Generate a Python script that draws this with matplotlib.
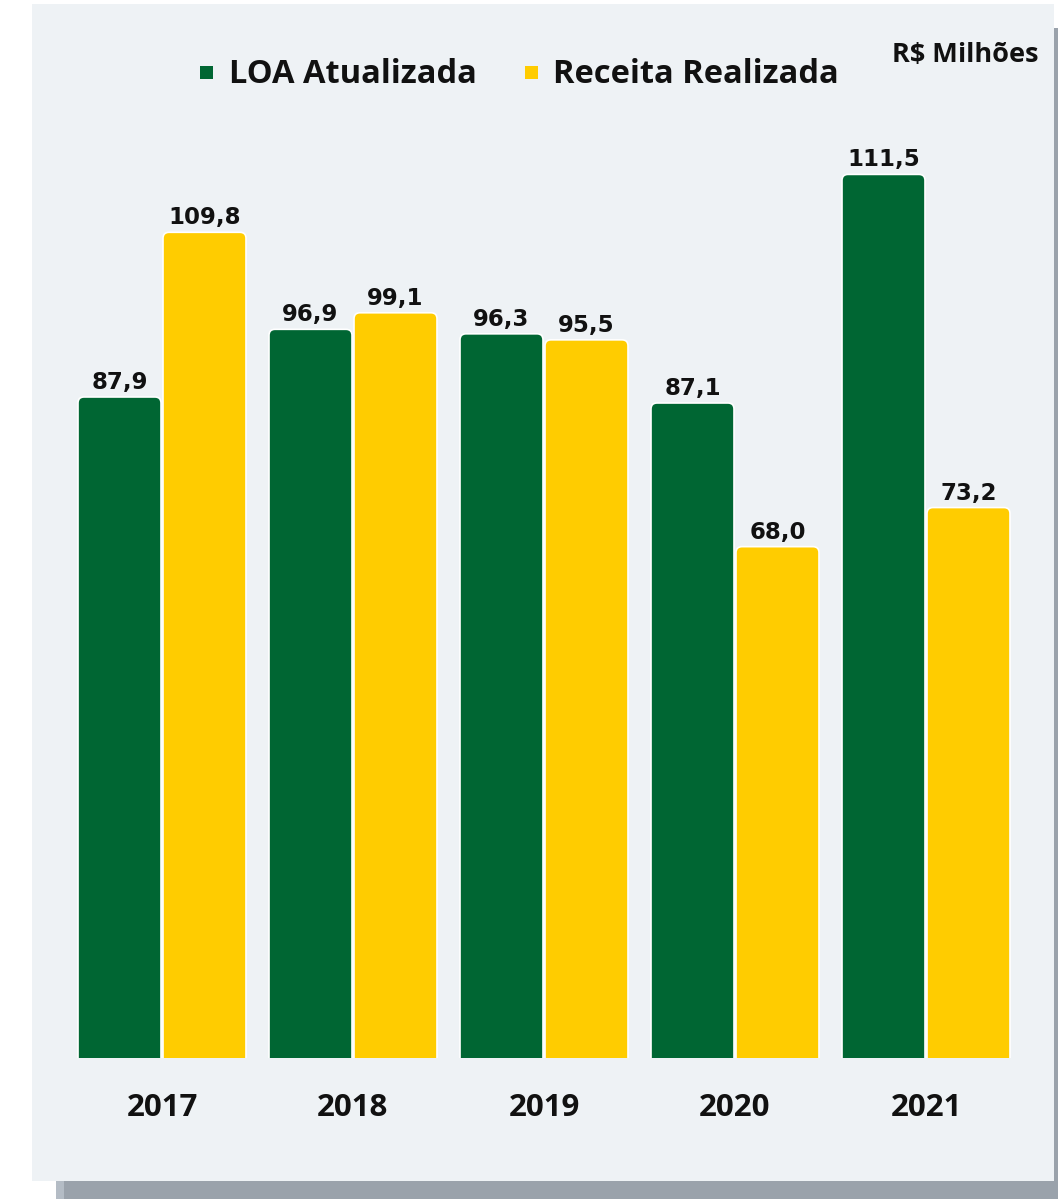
import matplotlib
matplotlib.use("Agg")
import matplotlib.pyplot as plt
from matplotlib.patches import Rectangle, FancyBboxPatch

years = ["2017", "2018", "2019", "2020", "2021"]
loa_values = [87.9, 96.9, 96.3, 87.1, 117.5]
receita_values = [109.8, 99.1, 95.5, 68.0, 73.2]
loa_labels = ["87,9", "96,9", "96,3", "87,1", "111,5"]
receita_labels = ["109,8", "99,1", "95,5", "68,0", "73,2"]
series_names = ["LOA Atualizada", "Receita Realizada"]
unit_label = "R$ Milhões"

GREEN = "#006633"
YELLOW = "#FFCC00"
PANEL = "#EEF2F5"
SHADOW = "#9AA2AB"
FONT = ["Open Sans", "DejaVu Sans"]
VFONT = ["DejaVu Sans"]

W, H = 1058, 1199
fig = plt.figure(figsize=(W / 100, H / 100), dpi=100)
fig.patch.set_facecolor("white")


def fx(x):
    return x / W


def fy(y):
    return 1 - y / H


PT = 72 / 100  # points per pixel

# shadow and panel
fig.patches.append(Rectangle((fx(56), fy(1199)), fx(1058) - fx(56), fy(28) - fy(1199),
                             transform=fig.transFigure, facecolor=SHADOW, edgecolor="none", zorder=-3))
fig.patches.append(Rectangle((fx(56), fy(1199)), fx(64) - fx(56), fy(1181) - fy(1199),
                             transform=fig.transFigure, facecolor="#B4BCC5", edgecolor="none", zorder=-2))
fig.patches.append(Rectangle((fx(32), fy(1181)), fx(1054) - fx(32), fy(4) - fy(1181),
                             transform=fig.transFigure, facecolor=PANEL, edgecolor="none", zorder=-1))

# axes: baseline at pixel y=1058, 7.52 px per unit
px_per_unit = 7.52
px_per_group = 191.0
x_left_px, x_right_px = 32, 1054
ax = fig.add_axes([fx(x_left_px), fy(1058), fx(x_right_px) - fx(x_left_px), fy(5) - fy(1058)])
ax.set_facecolor("none")
ax.set_xlim((x_left_px - 162) / px_per_group, (x_right_px - 162) / px_per_group)
ax.set_ylim(0, (1058 - 5) / px_per_unit)
for s in ax.spines.values():
    s.set_visible(False)
ax.set_xticks([])
ax.set_yticks([])

bw = 83 / px_per_group
off = 42.5 / px_per_group
xs = list(range(len(years)))

bars_g = ax.bar([x - off for x in xs], loa_values, width=bw, color=GREEN)
bars_y = ax.bar([x + off for x in xs], receita_values, width=bw, color=YELLOW)

r_x = 6 / px_per_group
aspect = (6 / px_per_unit) / r_x
for bars, col in ((bars_g, GREEN), (bars_y, YELLOW)):
    for b in bars:
        b.set_visible(False)
        x0, w, h = b.get_x(), b.get_width(), b.get_height()
        p = FancyBboxPatch((x0, -3), w, h + 3,
                           boxstyle=f"round,pad=0,rounding_size={r_x}",
                           mutation_aspect=aspect, facecolor=col,
                           edgecolor="white", linewidth=1.2, zorder=3)
        ax.add_patch(p)

for sign, vals, labs in ((-1, loa_values, loa_labels), (1, receita_values, receita_labels)):
    for x, v, lab in zip(xs, vals, labs):
        ax.annotate(lab, (x + sign * off, v), xytext=(0, 8 * PT), textcoords="offset points",
                    ha="center", va="baseline", fontsize=16.5, fontweight="bold",
                    family=VFONT, color="#111111")

for x, yr in zip(xs, years):
    ax.annotate(yr, (x, 0), xytext=(0, -58 * PT), textcoords="offset points",
                ha="center", va="baseline", fontsize=22.5, fontweight="bold",
                family=FONT, color="#111111")

# legend
sq = 13
for cx, col, name, tx in ((206.5, GREEN, series_names[0], 229),
                          (531.5, YELLOW, series_names[1], 553)):
    fig.patches.append(Rectangle((fx(cx - sq / 2), fy(72.5 + sq / 2)), sq / W, sq / H,
                                 transform=fig.transFigure, facecolor=col, edgecolor="none", zorder=2))
    fig.text(fx(tx), fy(83), name, ha="left", va="baseline", fontsize=23.5,
             fontweight="bold", family=FONT, color="#111111")

fig.text(fx(1038), fy(62), unit_label, ha="right", va="baseline", fontsize=19.5,
         fontweight="bold", family=FONT, color="#111111")

fig.savefig("out.png", dpi=100, facecolor=fig.get_facecolor())
